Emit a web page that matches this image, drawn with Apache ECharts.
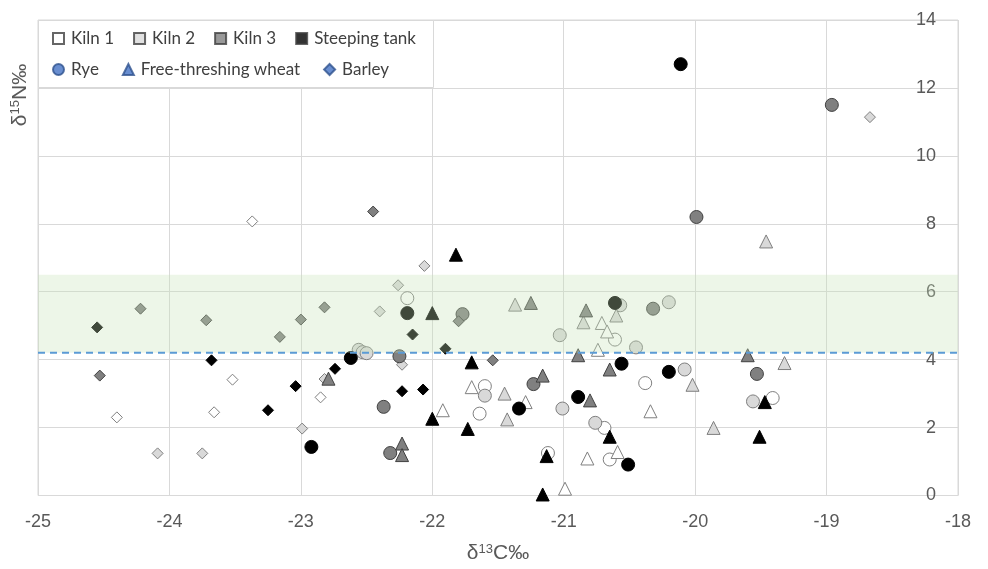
<!DOCTYPE html>
<html>
<head>
<meta charset="utf-8">
<script src="https://cdn.jsdelivr.net/npm/echarts@6/dist/echarts.min.js"></script>
<style>
  html, body { margin: 0; padding: 0; background: #fff; }
  #chart { width: 988px; height: 569px; }
</style>
</head>
<body>
<div id="chart"></div>
<script>
// δ13C / δ15N values, [x, y]
var kiln1Rye = [[-22.19, 5.81], [-20.61, 4.59], [-21.60, 3.22], [-21.64, 2.41], [-20.69, 1.99],
    [-21.12, 1.25], [-20.65, 1.06], [-20.38, 3.31], [-19.41, 2.87]];
var kiln1Wheat = [[-21.92, 2.51], [-21.70, 3.19], [-20.71, 5.08], [-20.67, 4.83], [-20.74, 4.29],
    [-21.29, 2.75], [-20.82, 1.09], [-20.59, 1.28], [-20.99, 0.20], [-20.34, 2.48]];
var kiln1Barley = [[-23.37, 8.07], [-23.52, 3.41], [-24.40, 2.30], [-23.66, 2.45], [-22.85, 2.89]];

var kiln2Rye = [[-22.56, 4.29], [-22.53, 4.22], [-22.50, 4.19], [-21.03, 4.72], [-20.57, 5.60],
    [-20.45, 4.36], [-21.60, 2.94], [-21.01, 2.56], [-20.76, 2.14], [-20.20, 5.69],
    [-20.08, 3.71], [-19.56, 2.77]];
var kiln2Wheat = [[-21.37, 5.62], [-20.85, 5.10], [-20.60, 5.30], [-21.45, 3.00], [-21.43, 2.24],
    [-19.46, 7.48], [-20.02, 3.26], [-19.86, 1.99], [-19.32, 3.90]];
var kiln2Barley = [[-22.06, 6.76], [-22.26, 6.19], [-22.40, 5.42], [-22.23, 3.85], [-22.82, 3.43],
    [-22.99, 1.97], [-24.09, 1.24], [-23.75, 1.24], [-18.67, 11.14]];

var kiln3Rye = [[-21.77, 5.34], [-22.25, 4.10], [-22.37, 2.61], [-22.32, 1.25], [-21.23, 3.28],
    [-19.99, 8.20], [-20.32, 5.50], [-19.53, 3.58], [-18.96, 11.50]];
var kiln3Wheat = [[-21.25, 5.67], [-20.83, 5.45], [-20.89, 4.13], [-22.79, 3.44], [-22.23, 1.53],
    [-22.23, 1.19], [-21.16, 3.53], [-20.80, 2.80], [-20.65, 3.71], [-19.60, 4.13]];
var kiln3Barley = [[-24.22, 5.50], [-23.72, 5.16], [-24.53, 3.53], [-22.45, 8.36], [-21.80, 5.13],
    [-22.82, 5.54], [-23.00, 5.18], [-23.16, 4.67], [-21.54, 3.98]];

var tankRye = [[-22.19, 5.37], [-20.61, 5.67], [-22.62, 4.05], [-22.92, 1.43], [-21.34, 2.56],
    [-20.89, 2.90], [-20.56, 3.88], [-20.51, 0.91], [-20.20, 3.64], [-20.11, 12.70]];
var tankWheat = [[-21.82, 7.09], [-22.00, 5.37], [-22.00, 2.26], [-21.70, 3.92], [-21.73, 1.96],
    [-21.13, 1.16], [-20.65, 1.73], [-21.16, 0.03], [-19.47, 2.75], [-19.51, 1.73]];
var tankBarley = [[-24.55, 4.95], [-23.68, 3.98], [-23.25, 2.51], [-22.15, 4.74], [-21.90, 4.32],
    [-22.74, 3.73], [-23.04, 3.22], [-22.23, 3.07], [-22.07, 3.12]];

var kilnNames = ['Kiln 1', 'Kiln 2', 'Kiln 3', 'Steeping tank'];
var speciesNames = ['Rye', 'Free-threshing wheat', 'Barley'];
var bandRange = [4.2, 6.5];
var refLine = 4.2;

var groups = [
    [kiln1Rye, kiln1Wheat, kiln1Barley],
    [kiln2Rye, kiln2Wheat, kiln2Barley],
    [kiln3Rye, kiln3Wheat, kiln3Barley],
    [tankRye, tankWheat, tankBarley]
];

// fill / border per kiln, symbol per species
var kilnFill = ['#ffffff', '#d9d9d9', '#808080', '#000000'];
var kilnBorder = ['#7f7f7f', '#7f7f7f', '#404040', '#000000'];
var speciesSymbol = ['circle', 'triangle', 'diamond'];
var speciesSize = [13, 13, 11];

var series = [];
for (var k = 0; k < groups.length; k++) {
    for (var s = 0; s < groups[k].length; s++) {
        series.push({
            name: kilnNames[k] + ' ' + speciesNames[s],
            type: 'scatter',
            data: groups[k][s],
            symbol: speciesSymbol[s],
            symbolSize: speciesSize[s],
            z: 2,
            itemStyle: { color: kilnFill[k], borderColor: kilnBorder[k], borderWidth: 1, opacity: 1 }
        });
    }
}

// legend-only entries
kilnNames.forEach(function (n, i) {
    series.push({
        name: n, type: 'scatter', data: [], symbol: 'rect',
        itemStyle: { color: kilnFill[i], borderColor: '#404040', borderWidth: 1 }
    });
});
speciesNames.forEach(function (n, i) {
    series.push({
        name: n, type: 'scatter', data: [], symbol: speciesSymbol[i],
        itemStyle: { color: '#4472c4', borderColor: '#2f528f', borderWidth: 1 }
    });
});

// translucent green band + dashed line, drawn above the points
series.push({
    name: 'band',
    type: 'custom',
    z: 10,
    silent: true,
    data: [[bandRange[0], bandRange[1]]],
    renderItem: function (params, api) {
        var cs = params.coordSys;
        var yLow = api.coord([-25, api.value(0)])[1];
        var yHigh = api.coord([-25, api.value(1)])[1];
        var yRef = api.coord([-25, refLine])[1];
        return {
            type: 'group',
            children: [{
                type: 'rect',
                shape: { x: cs.x, y: yHigh, width: cs.width, height: yLow - yHigh },
                style: { fill: 'rgba(200,228,185,0.32)' }
            }, {
                type: 'line',
                shape: { x1: cs.x, y1: yRef, x2: cs.x + cs.width, y2: yRef },
                style: { stroke: '#5b9bd5', lineWidth: 2, lineDash: [7, 5] }
            }]
        };
    }
});

var legendText = { fontFamily: 'Lato', fontSize: 17, color: '#404040', padding: [0, 0, 0, 2] };

var chart = echarts.init(document.getElementById('chart'));
chart.setOption({
    animation: false,
    backgroundColor: '#ffffff',
    grid: {
        left: 38, right: 30, top: 20, bottom: 73,
        show: true, borderColor: '#d9d9d9', borderWidth: 1
    },
    legend: [{
        data: kilnNames,
        left: 52, top: 30, padding: 0,
        itemGap: 19, itemWidth: 11, itemHeight: 11,
        selectedMode: false,
        textStyle: legendText
    }, {
        data: speciesNames,
        left: 52, top: 61, padding: 0,
        itemGap: 23, itemWidth: 11, itemHeight: 11,
        selectedMode: false,
        textStyle: legendText
    }],
    xAxis: {
        type: 'value',
        min: -25, max: -18, interval: 1,
        name: '{m|δ}{s|13}{m|C‰}',
        nameLocation: 'middle',
        nameGap: 47,
        nameTextStyle: {
            rich: {
                m: { fontFamily: 'Liberation Sans', fontSize: 21, color: '#595959' },
                s: { fontFamily: 'Liberation Sans', fontSize: 13, color: '#595959', verticalAlign: 'top', padding: [0, 0, 9, 0] }
            }
        },
        axisLine: { show: false },
        axisTick: { show: false },
        axisLabel: { fontFamily: 'Liberation Sans', fontSize: 18, color: '#595959', margin: 18 },
        splitLine: { show: true, lineStyle: { color: '#d9d9d9', width: 1 } }
    },
    yAxis: {
        type: 'value',
        position: 'right',
        min: 0, max: 14, interval: 2,
        axisLine: { show: false },
        axisTick: { show: false },
        axisLabel: { inside: true, margin: 22, fontFamily: 'Liberation Sans', fontSize: 18, color: '#595959' },
        splitLine: { show: true, lineStyle: { color: '#d9d9d9', width: 1 } }
    },
    graphic: [{
        type: 'rect',
        z: 3,
        shape: { x: 38.5, y: 20.5, width: 395, height: 67 },
        style: { fill: '#ffffff', stroke: '#d9d9d9', lineWidth: 1 }
    }, {
        type: 'text',
        x: 20, y: 95,
        rotation: Math.PI / 2,
        style: {
            text: '{m|δ}{s|15}{m|N‰}',
            rich: {
                m: { fontFamily: 'Liberation Sans', fontSize: 21, fill: '#595959' },
                s: { fontFamily: 'Liberation Sans', fontSize: 13, fill: '#595959', verticalAlign: 'top', padding: [0, 0, 9, 0] }
            },
            align: 'center', verticalAlign: 'middle'
        }
    }],
    series: series
});
</script>
</body>
</html>
